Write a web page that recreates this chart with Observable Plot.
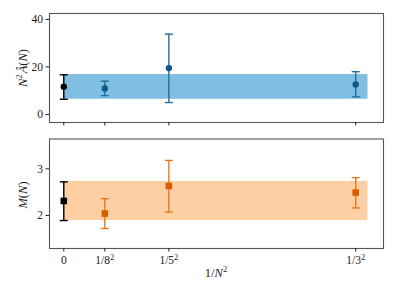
<!DOCTYPE html>
<html><head><meta charset="utf-8">
<script src="https://cdn.jsdelivr.net/npm/d3@7"></script>
<script src="https://cdn.jsdelivr.net/npm/@observablehq/plot@0.6"></script>
<style>
body{margin:0;background:#fff;}
#wrap{position:relative;width:396px;height:297px;font-family:"Liberation Serif",serif;overflow:hidden;}
#wrap svg{position:absolute;left:0;}
#wrap svg text{font-family:"Liberation Serif",serif !important;font-size:11.5px;}
.lab{position:absolute;font-size:12.5px;color:#222;white-space:nowrap;transform:translate(-50%,-50%);}
.lab sup{font-size:8.5px;vertical-align:5px;line-height:0;}
.rot{transform:translate(-50%,-50%) rotate(-90deg);}
</style></head><body><div id="wrap"></div>
<script>
// x positions (1/N^2) and tick labels
const xVals = [0, 1/64, 1/25, 1/9];
const xLabels = ["0", "1/8²", "1/5²", "1/3²"];
// top panel: N^2 Â(N)
const aVal = [11.7, 10.9, 19.5, 12.6];
const aLo  = [6.4, 7.9, 5.0, 7.4];
const aHi  = [16.7, 14.0, 33.8, 18.0];
const aBand = [6.4, 16.8];
const aTicks = [0, 20, 40];
// bottom panel: M(N)
const mVal = [2.31, 2.04, 2.63, 2.49];
const mLo  = [1.89, 1.72, 2.07, 2.16];
const mHi  = [2.72, 2.36, 3.18, 2.81];
const mBand = [1.89, 2.73];
const mTicks = [2, 3];
// band x-extent
const bandX = [0, 0.1158];

const xDom = [-0.00544, 0.1217];
const wrap = document.getElementById("wrap");
const cap = {draw(ctx){ ctx.moveTo(-4, 0); ctx.lineTo(4, 0); }};

function panel(vals, lo, hi, band, opts) {
  const rows = xVals.map((x, i) => ({x, v: vals[i], lo: lo[i], hi: hi[i], i,
    bar: i === 0 ? "#000" : opts.bar, mk: i === 0 ? "#000" : opts.mk}));
  const bandRow = [{x1: bandX[0], x2: bandX[1], y1: band[0], y2: band[1]}];
  return Plot.plot({
    width: 396, height: opts.height,
    marginLeft: 49, marginRight: 13, marginTop: opts.mt, marginBottom: opts.mb,
    style: {color: "#222", fontFamily: "Liberation Serif, serif", fontSize: "11.5px", background: "transparent"},
    x: {domain: xDom},
    y: {domain: opts.yDom},
    color: {type: "identity"},
    marks: [
      Plot.rect(bandRow, {x1: "x1", x2: "x2", y1: "y1", y2: "y2", fill: opts.band}),
      Plot.ruleX(rows, {x: "x", y1: "lo", y2: "hi", stroke: "bar", strokeWidth: 1.4}),
      Plot.dot(rows, {x: "x", y: "lo", symbol: cap, fill: "none", stroke: "bar", strokeWidth: 1.4}),
      Plot.dot(rows, {x: "x", y: "hi", symbol: cap, fill: "none", stroke: "bar", strokeWidth: 1.4}),
      Plot.dot(rows, {x: "x", y: "v", symbol: opts.symbol, r: opts.r, fill: "mk", stroke: "none"}),
      Plot.frame({stroke: "#555", strokeWidth: 1.1}),
      Plot.axisY({ticks: opts.yTicks, tickSize: 3.5, tickPadding: 3, label: null, tickFormat: d => String(d)}),
      Plot.axisX({ticks: xVals, tickSize: 3.5, tickPadding: 4, label: null,
        tickFormat: d => opts.xlabels ? xLabels[xVals.indexOf(d)] : ""})
    ]
  });
}

const topPanel = panel(aVal, aLo, aHi, aBand, {height: 130, mt: 13, mb: 8, yDom: [-3.4, 42.5], yTicks: aTicks,
  band: "#80bfe2", bar: "#1f6f9f", mk: "#0f5a88", symbol: "circle", r: 3.2, xlabels: false});
topPanel.style.top = "0px";
wrap.appendChild(topPanel);

const botPanel = panel(mVal, mLo, mHi, mBand, {height: 167, mt: 8.5, mb: 49, yDom: [1.29, 3.64], yTicks: mTicks,
  band: "#fdcfa2", bar: "#e8781e", mk: "#d45f00", symbol: "square", r: 3.7, xlabels: true});
botPanel.style.top = "130px";
wrap.appendChild(botPanel);

// render "²" in tick labels as a proper raised superscript
botPanel.querySelectorAll("text").forEach(t => {
  const s = t.textContent;
  if (s.endsWith("²")) {
    t.textContent = s.slice(0, -1);
    const ts = document.createElementNS("http://www.w3.org/2000/svg", "tspan");
    ts.setAttribute("dy", "-4.5");
    ts.setAttribute("style", "font-size:8.5px");
    ts.textContent = "2";
    t.appendChild(ts);
  }
});

function label(html, x, y, rot) {
  const d = document.createElement("div");
  d.className = "lab" + (rot ? " rot" : "");
  d.style.left = x + "px"; d.style.top = y + "px";
  d.innerHTML = html;
  wrap.appendChild(d);
}
label('<i>N</i><sup>2</sup>&#8202;<i>Â</i>(<i>N</i>)', 23, 68, true);
label('<i>M</i>(<i>N</i>)', 23, 195, true);
label('1/<i>N</i><sup>2</sup>', 216, 273, false);
</script></body></html>
